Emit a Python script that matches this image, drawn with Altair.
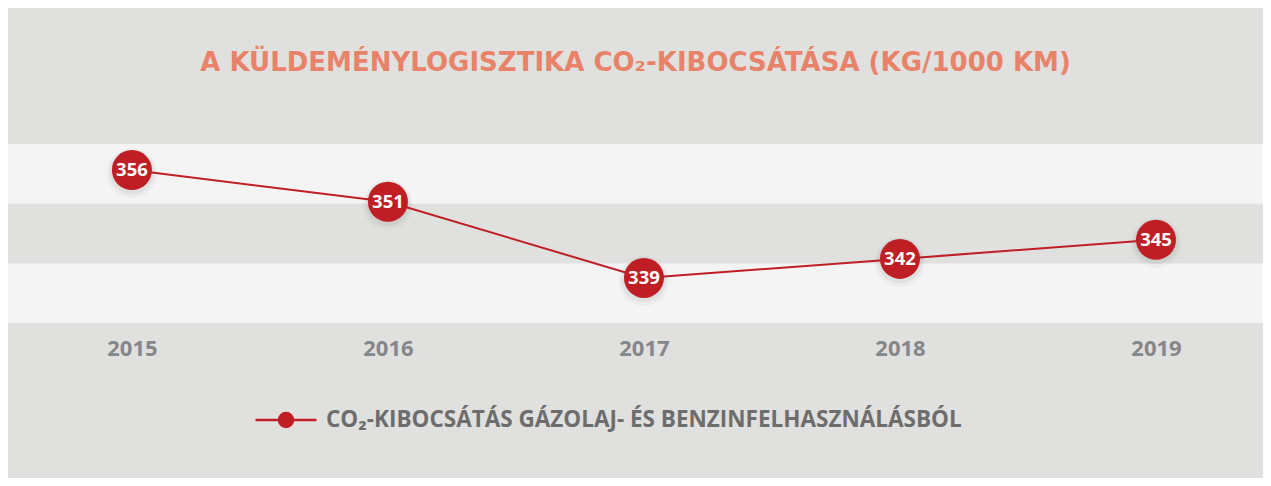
import altair as alt
import pandas as pd

# ---- data -------------------------------------------------------------
years = [2015, 2016, 2017, 2018, 2019]
values = [356, 351, 339, 342, 345]
series_name = "CO₂-KIBOCSÁTÁS GÁZOLAJ- ÉS BENZINFELHASZNÁLÁSBÓL"
title_text = "A KÜLDEMÉNYLOGISZTIKA CO₂-KIBOCSÁTÁSA (KG/1000 KM)"

# background stripes (value ranges on the y scale)
band_low = [331.9, 341.3, 350.7]
band_high = [341.3, 350.7, 360.1]
band_fill = ["#f4f4f4", "#e0e0de", "#f4f4f4"]

RED = "#be1e24"
BG = "#e0e0de"
FONT = "Open Sans"

df = pd.DataFrame({"year": years, "value": values, "series": [series_name] * len(years)})
bands = pd.DataFrame({"lo": band_low, "hi": band_high, "fill": band_fill})

x_scale = alt.Scale(domain=[2014.516, 2019.418], nice=False, zero=False)
y_scale = alt.Scale(domain=[331.9, 360.1], nice=False, zero=False)

band_layer = alt.Chart(bands).mark_rect().encode(
    x=alt.value(0),
    x2=alt.value("width"),
    y=alt.Y("lo:Q", scale=y_scale, axis=None),
    y2="hi:Q",
    fill=alt.Fill("fill:N", scale=None),
)

line = alt.Chart(df).mark_line(color=RED, strokeWidth=2).encode(
    x=alt.X(
        "year:Q",
        scale=x_scale,
        axis=alt.Axis(
            values=years,
            format="d",
            title=None,
            grid=False,
            domain=False,
            ticks=False,
            labelFont=FONT,
            labelFontSize=22,
            labelFontWeight="bold",
            labelColor="#85868a",
            labelPadding=15,
        ),
    ),
    y=alt.Y("value:Q", scale=y_scale, axis=None),
)

shadow1 = alt.Chart(df).mark_circle(size=2500, opacity=0.045, color="#444444", yOffset=3).encode(
    x="year:Q", y="value:Q"
)
shadow2 = alt.Chart(df).mark_circle(size=2000, opacity=0.07, color="#444444", yOffset=2).encode(
    x="year:Q", y="value:Q"
)

legend_path = (
    "M-1,0L1,0"
    "M0,-0.23A0.23,0.23,0,1,1,0,0.23A0.23,0.23,0,1,1,0,-0.23Z"
)

points = alt.Chart(df).mark_circle(size=1600, opacity=1).encode(
    x="year:Q",
    y="value:Q",
    color=alt.Color(
        "series:N",
        scale=alt.Scale(range=[RED]),
        legend=alt.Legend(
            title=None,
            orient="none",
            legendX=246,
            legendY=244,
            symbolType=legend_path,
            symbolSize=3721,
            symbolStrokeColor=RED,
            symbolFillColor=RED,
            symbolStrokeWidth=2.5,
            symbolOpacity=1,
            labelFont=FONT,
            labelFontSize=22.5,
            labelFontWeight="bold",
            labelColor="#6d6d6d",
            labelOffset=8,
            labelLimit=0,
        ),
    ),
)

labels = alt.Chart(df).mark_text(
    color="white", font=FONT, fontSize=18.5, fontWeight="bold", baseline="middle"
).encode(x="year:Q", y="value:Q", text="value:Q")

chart = (
    alt.layer(band_layer, line, shadow1, shadow2, points, labels)
    .properties(
        width=1255,
        height=179,
        title=alt.TitleParams(
            title_text,
            font="DejaVu Sans",
            fontSize=26,
            fontWeight="bold",
            color="#e8836a",
            anchor="middle",
            offset=68,
        ),
        background=BG,
        padding={"left": 0, "right": 0, "top": 136, "bottom": 155},
        autosize=alt.AutoSizeParams(type="none"),
    )
    .configure_view(stroke=None)
)

chart.save("out.html", embed_options={"renderer": "svg", "actions": False})
